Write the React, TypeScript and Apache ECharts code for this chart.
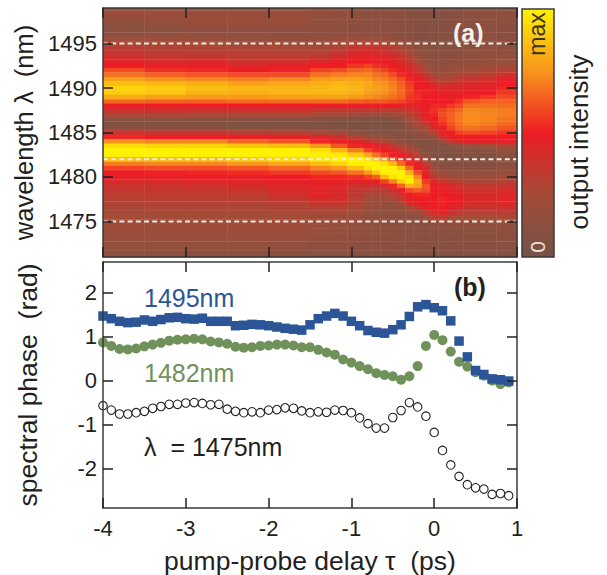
import React, { useEffect, useRef } from "react";
import * as echarts from "echarts";

// pump-probe delay (ps) sampled every 0.1 ps
const delays = [-4,-3.9,-3.8,-3.7,-3.6,-3.5,-3.4,-3.3,-3.2,-3.1,-3,-2.9,-2.8,-2.7,-2.6,-2.5,-2.4,-2.3,-2.2,-2.1,-2,-1.9,-1.8,-1.7,-1.6,-1.5,-1.4,-1.3,-1.2,-1.1,-1,-0.9,-0.8,-0.7,-0.6,-0.5,-0.4,-0.3,-0.2,-0.1,0,0.1,0.2,0.3,0.4,0.5,0.6,0.7,0.8,0.9];
const phase1495 = [1.47,1.41,1.35,1.32,1.33,1.38,1.35,1.39,1.43,1.44,1.41,1.40,1.42,1.35,1.35,1.35,1.25,1.26,1.28,1.27,1.25,1.22,1.19,1.17,1.15,1.27,1.41,1.47,1.53,1.47,1.35,1.25,1.14,1.10,1.08,1.16,1.27,1.46,1.68,1.73,1.66,1.59,1.36,0.90,0.54,0.23,0.14,0.04,0.02,-0.01];
const phase1482 = [0.87,0.79,0.72,0.71,0.73,0.78,0.82,0.86,0.91,0.93,0.94,0.95,0.94,0.89,0.87,0.84,0.77,0.75,0.76,0.79,0.80,0.82,0.82,0.80,0.76,0.76,0.70,0.64,0.59,0.48,0.41,0.33,0.26,0.17,0.13,0.10,0.02,0.10,0.33,0.79,1.04,0.92,0.66,0.43,0.32,0.19,0.11,0,-0.08,-0.04];
const phase1475 = [-0.57,-0.67,-0.76,-0.76,-0.73,-0.70,-0.63,-0.59,-0.54,-0.54,-0.51,-0.50,-0.52,-0.55,-0.54,-0.65,-0.70,-0.73,-0.71,-0.73,-0.67,-0.66,-0.62,-0.63,-0.69,-0.73,-0.71,-0.72,-0.67,-0.68,-0.73,-0.85,-0.98,-1.08,-1.08,-0.84,-0.68,-0.50,-0.60,-0.81,-1.18,-1.59,-1.92,-2.18,-2.37,-2.44,-2.47,-2.59,-2.57,-2.62];

// Spectrogram: wavelengths from 1499 down to 1471 in 0.5 nm rows
const wavelengthTop = 1499;
const wavelengthStep = 0.5;
const columnEdges = [-4,-3.5,-3,-2.5,-2,-1.5,-1.25,-1.05,-0.85,-0.75,-0.65,-0.55,-0.45,-0.35,-0.25,-0.15,-0.05,0.05,0.15,0.25,0.35,0.55,0.75,1];
const col01 = [20,20,18,16,12,11,15,22,28, 32,36,40,46,50,60,68,78, 86,92,90,80,66,50,40,28, 12,6,12,38,52,74,94,100, 100,86,70,58,50,47,42,38, 36,33,31,29,27,26,25,24, 23,22,20,19,17,16,14,13];
const col02 = [18,20,20,18,14,12,16,22,27, 30,33,37,42,48,54,64,74, 84,90,88,78,64,49,40,28, 12,6,10,36,50,72,92,100, 100,86,72,60,51,47,43,39, 36,34,32,30,28,26,25,24, 23,22,20,19,17,16,14,13];
const col03 = [14,18,20,20,17,14,16,20,25, 29,32,37,43,48,52,62,72, 82,86,84,76,64,50,40,27, 12,6,10,36,50,72,92,100, 100,86,72,60,52,48,44,40, 37,34,32,30,28,26,25,24, 23,22,20,19,17,16,14,13];
const col04 = [14,18,20,20,18,15,16,18,23, 28,31,34,38,44,49,60,70, 78,84,82,76,66,50,40,27, 10,5,8,32,49,66,88,100, 100,88,76,62,53,48,46,42, 38,34,32,30,28,26,25,24, 23,22,20,19,17,16,14,13];
const col05 = [15,18,20,19,17,15,15,18,22, 27,30,34,40,47,51,60,72, 80,84,84,78,66,50,40,27, 10,5,8,30,48,62,86,100, 100,92,80,66,56,50,47,45, 43,40,36,32,29,27,25,24, 23,22,20,18,16,15,13,12];
const col06 = [18,18,17,16,15,14,15,18,22, 26,31,36,44,50,58,68,76, 82,84,84,78,66,50,38,25, 10,5,8,26,44,52,76,95, 100,98,86,72,60,52,48,47, 46,45,42,36,31,27,24,22, 21,20,19,17,15,14,12,11];
const col07 = [16,16,15,14,14,14,16,20,24, 30,36,42,47,50,60,70,78, 84,86,84,78,66,50,36,22, 9,5,7,20,40,48,62,84, 98,100,92,76,62,52,47,44, 44,43,40,36,31,26,22,20, 19,18,18,16,15,14,12,11];
const col08 = [14,14,14,14,13,13,16,22,28, 36,42,46,50,55,64,72,78, 82,84,82,76,64,50,36,20, 8,4,6,14,30,46,52,70, 90,100,100,86,68,54,46,40, 36,34,32,30,27,24,20,18, 17,16,16,15,14,13,11,10];
const col09 = [14,13,12,12,12,12,15,22,30, 38,44,48,50,58,66,72,76, 80,80,78,74,62,50,36,18, 7,4,5,10,24,40,50,58, 80,96,100,96,76,58,47,40, 33,28,24,22,20,18,16,15, 15,15,14,14,13,12,11,10];
const col10 = [12,12,12,12,12,12,14,22,30, 38,42,47,50,54,62,68,72, 76,78,76,72,62,50,36,18, 7,4,5,9,20,34,47,52, 68,88,100,100,88,64,49,40, 32,26,22,20,18,16,15,14, 14,14,14,13,13,12,11,10];
const col11 = [12,12,12,12,12,12,14,20,28, 36,40,45,49,52,58,66,70, 74,76,74,70,62,50,35,18, 7,4,5,8,16,28,42,50, 58,76,96,100,100,84,58,44, 34,26,22,18,16,15,14,14, 14,14,14,13,13,12,11,10];
const col12 = [12,12,12,12,12,12,13,16,24, 32,37,42,46,49,53,60,66, 70,72,70,68,60,49,35,20, 8,5,5,7,12,22,34,46, 51,62,84,100,100,96,72,52, 42,32,24,18,15,14,14,14, 14,14,13,13,12,12,11,10];
const col13 = [12,12,12,12,12,11,12,14,20, 26,32,38,42,46,49,53,60, 64,66,66,64,58,48,36,24, 14,9,7,8,10,16,26,38, 47,53,66,88,100,100,90,64, 48,40,34,26,18,14,13,13, 13,13,13,12,12,11,10,10];
const col14 = [10,10,10,10,10,10,10,12,15, 20,24,30,36,40,45,48,52, 56,58,58,56,54,46,38,30, 24,18,14,10,9,10,18,30, 40,47,52,66,82,96,100,82, 60,50,47,42,26,16,12,12, 12,12,12,12,11,10,10,10];
const col15 = [9,9,9,9,9,9,9,9,10, 14,17,20,25,32,38,44,48, 50,50,52,54,52,48,44,38, 30,28,24,17,12,8,10,20, 32,40,47,50,60,72,82,78, 64,52,50,47,36,20,12,12, 12,12,12,11,10,10,10,10];
const col16 = [9,9,9,9,9,9,9,9,9, 12,14,16,18,22,28,36,44, 48,50,51,50,50,50,49,48, 44,36,28,20,13,8,7,8, 14,24,34,42,47,49,56,62, 60,52,50,49,46,34,20,13, 12,11,11,10,10,10,10,9];
const col17 = [8,8,8,8,8,9,9,9,9, 10,11,12,14,16,20,26,34, 42,47,49,50,50,52,54,52, 50,48,42,32,18,9,6,6, 7,10,14,20,28,36,44,49, 50,50,50,50,48,44,30,16, 12,11,11,10,10,10,10,9];
const col18 = [9,9,9,9,9,9,9,9,9, 10,10,11,12,14,17,22,28, 36,42,48,50,50,52,58,60, 58,55,50,47,40,20,8,6, 6,8,10,13,18,28,38,46, 49,50,52,52,50,46,34,20, 14,11,10,10,10,10,9,9];
const col19 = [10,10,10,10,10,10,10,10,10, 11,12,13,14,16,20,24,30, 38,44,47,48,50,56,62,64, 64,62,58,50,47,34,12,7, 6,7,9,12,16,24,34,42, 47,49,50,49,46,38,28,18, 14,12,11,11,10,10,9,9];
const col20 = [11,11,11,11,11,11,11,11,11, 12,13,14,15,17,22,28,34, 40,44,47,50,54,60,66,69, 69,68,65,58,49,42,16,9, 7,7,9,12,16,22,30,38, 44,47,48,47,42,34,25,18, 14,12,11,11,10,10,9,9];
const col21 = [12,12,12,12,12,12,12,12,12, 13,14,15,16,18,24,30,36, 42,46,49,52,62,68,72,73, 73,72,68,60,50,46,20,10, 8,8,9,12,16,22,28,34, 39,42,43,41,37,32,25,18, 14,12,11,11,10,10,9,9];
const col22 = [12,12,12,12,12,12,12,12,13, 14,15,16,17,20,26,34,40, 44,47,50,56,64,68,71,72, 72,70,66,58,50,47,24,12, 8,8,9,12,16,22,28,34, 39,42,43,42,38,32,25,18, 14,12,11,11,10,10,9,9];
const col23 = [14,14,14,14,13,13,13,13,13, 14,15,16,18,22,30,40,47, 50,52,56,60,64,67,70,70, 68,66,62,56,50,47,30,16, 12,10,11,14,18,24,30,36, 41,44,45,44,39,33,26,20, 16,14,13,12,11,10,10,9];
const intensityColumns = [col01,col02,col03,col04,col05,col06,col07,col08,col09,col10,col11,col12,col13,col14,col15,col16,col17,col18,col19,col20,col21,col22,col23];

const dashedWavelengths = [1495, 1482, 1475];
const wavelengthTicks = [1475, 1480, 1485, 1490, 1495];
const phaseTicks = [-2, -1, 0, 1, 2];
const palette = ["#745346", "#a34c38", "#ee1c25", "#f8951d", "#fff200"];

const INK = "#231f20";
const FONT = "Liberation Sans";

export default function App() {
  const ref = useRef<HTMLDivElement>(null);
  useEffect(() => {
    const chart = echarts.init(ref.current!, undefined, { renderer: "svg" });
    const wlMin = 1471, wlMax = 1499;
    const cells: number[][] = [];
    intensityColumns.forEach((col, i) => {
      col.forEach((v, j) => {
        const wl = wavelengthTop - j * wavelengthStep;
        cells.push([
          columnEdges[i], columnEdges[i + 1],
          Math.min(wlMax, wl + wavelengthStep / 2), Math.max(wlMin, wl - wavelengthStep / 2),
          v,
        ]);
      });
    });
    const xBase = (gridIndex: number, position: string, labels: boolean) => ({
      type: "value", gridIndex, position, min: -4, max: 1, interval: 1, z: 10,
      splitLine: { show: false },
      axisLine: { show: true, onZero: false, lineStyle: { color: "#3a3a3a", width: 1.5 } },
      axisTick: { show: true, inside: true, length: 10, lineStyle: { color: INK, width: 1.5 } },
      axisLabel: { show: labels, fontFamily: FONT, fontSize: 22, color: INK, margin: 9 },
    });
    const yBase = (gridIndex: number, position: string, labels: boolean, min: number, max: number, ticks: number[]) => ({
      type: "value", gridIndex, position, min, max, z: 10,
      splitLine: { show: false },
      axisLine: { show: true, onZero: false, lineStyle: { color: "#3a3a3a", width: 1.5 } },
      axisTick: { show: true, inside: true, length: 10, customValues: ticks, lineStyle: { color: INK, width: 1.5 } },
      axisLabel: { show: labels, customValues: ticks, formatter: (v: number) => String(v), fontFamily: FONT, fontSize: 22, color: INK, margin: 6 },
    });
    const pts = (ys: number[]) => delays.map((t, i) => [t, ys[i]]);
    const barX = 522, barY = 9, barW = 32, barH = 248;
    const vert = (text: string, x: number, y: number, fontSize: number, fill: string) => ({
      type: "text", x, y, rotation: Math.PI / 2, z: 20,
      style: { text, fontFamily: FONT, fontSize, fill, textAlign: "center", textVerticalAlign: "middle" },
    });
    const flat = (text: string, x: number, y: number, fontSize: number, fill: string, fontWeight = "normal") => ({
      type: "text", x, y, z: 20,
      style: { text, fontFamily: FONT, fontSize, fill, fontWeight, textAlign: "left", textVerticalAlign: "middle" },
    });
    const titleStyle = { fontFamily: FONT, fontSize: 26.5, color: INK };
    chart.setOption({
      animation: false,
      backgroundColor: "#fff",
      grid: [
        { left: 103, top: 8, width: 414, height: 249 },
        { left: 103, top: 262, width: 414, height: 247 },
      ],
      xAxis: [
        xBase(0, "bottom", false), xBase(0, "top", false),
        { ...xBase(1, "bottom", true), name: "pump-probe delay τ  (ps)", nameLocation: "middle", nameGap: 39, nameTextStyle: titleStyle },
        xBase(1, "top", false),
      ],
      yAxis: [
        { ...yBase(0, "left", true, wlMin, wlMax, wavelengthTicks), name: "wavelength λ  (nm)", nameLocation: "middle", nameGap: 62, nameTextStyle: { ...titleStyle, fontSize: 25.5 } },
        yBase(0, "right", false, wlMin, wlMax, wavelengthTicks),
        { ...yBase(1, "left", true, -2.9, 2.7, phaseTicks), name: "spectral phase  (rad)", nameLocation: "middle", nameGap: 62, nameTextStyle: titleStyle },
        yBase(1, "right", false, -2.9, 2.7, phaseTicks),
      ],
      visualMap: { show: false, seriesIndex: 0, dimension: 4, min: 0, max: 100, inRange: { color: palette } },
      series: [
        {
          type: "custom", xAxisIndex: 0, yAxisIndex: 0, data: cells, encode: { x: [0, 1], y: [2, 3] },
          renderItem: (_p: any, api: any) => {
            const a = api.coord([api.value(0), api.value(2)]);
            const b = api.coord([api.value(1), api.value(3)]);
            const color = api.visual("color");
            return {
              type: "rect",
              shape: { x: a[0], y: a[1], width: b[0] - a[0] + 0.4, height: b[1] - a[1] + 0.4 },
              style: { fill: color },
            };
          },
        },
        ...dashedWavelengths.map((w) => ({
          type: "line", xAxisIndex: 0, yAxisIndex: 0, symbol: "none", z: 5,
          data: [[-4, w], [1, w]],
          lineStyle: { color: "#f2ece4", width: 2, type: [5, 3.2] },
        })),
        { type: "scatter", xAxisIndex: 2, yAxisIndex: 2, symbol: "circle", symbolSize: 10, z: 3,
          data: pts(phase1482), itemStyle: { color: "#71915a", opacity: 1 } },
        { type: "scatter", xAxisIndex: 2, yAxisIndex: 2, symbol: "rect", symbolSize: 9.5, z: 4,
          data: pts(phase1495), itemStyle: { color: "#2c5597", opacity: 1 } },
        { type: "scatter", xAxisIndex: 2, yAxisIndex: 2, symbol: "circle", symbolSize: 8.5, z: 4,
          data: pts(phase1475), itemStyle: { color: "#fff", borderColor: INK, borderWidth: 1.1, opacity: 1 } },
      ],
      graphic: [
        {
          type: "rect", z: 15, shape: { x: barX, y: barY, width: barW, height: barH },
          style: {
            stroke: "#3a3a3a", lineWidth: 1.5,
            fill: new echarts.graphic.LinearGradient(0, 1, 0, 0, palette.map((color, i) => ({ offset: i / (palette.length - 1), color }))),
          },
        },
        vert("max", 537, 34, 23, "#3a3320"),
        vert("0", 537, 247, 21, "#e8e0d8"),
        vert("output intensity", 579, 142, 26, INK),
        flat("(a)", 453, 33, 25, "#f4f0ea", "bold"),
        flat("(b)", 454, 287, 25, INK, "bold"),
        flat("1495nm", 144, 298, 25, "#2c5597"),
        flat("1482nm", 144, 373, 25, "#71915a"),
        flat("λ  = 1475nm", 144, 447, 25, INK),
      ],
    });
    return () => chart.dispose();
  }, []);
  return <div ref={ref} style={{ position: "fixed", left: 0, top: 0, width: 607, height: 575 }} />;
}
